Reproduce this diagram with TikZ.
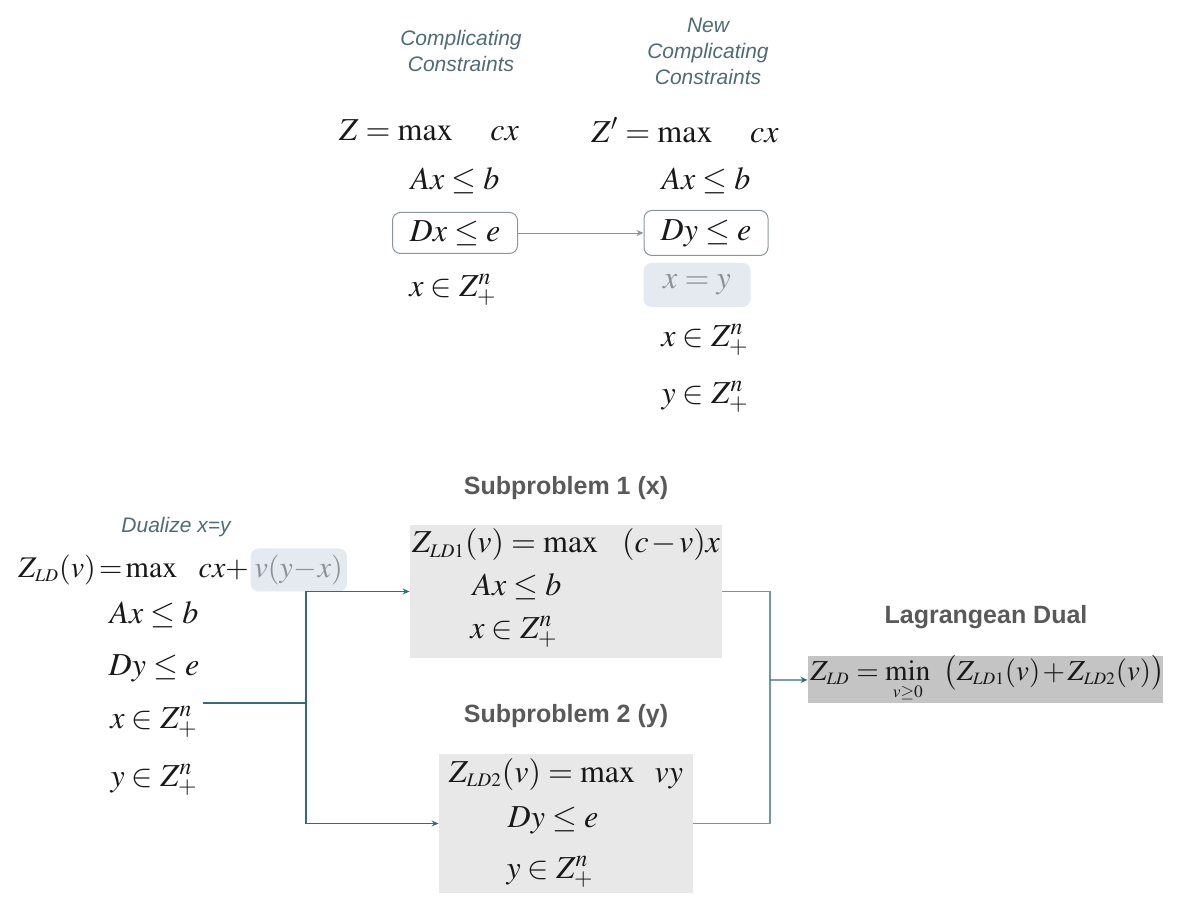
\documentclass[tikz,border=0pt]{standalone}
\usepackage{mathptmx}
\usepackage[no-math]{fontspec}
\setsansfont{Liberation Sans}
\usetikzlibrary{arrows.meta}

\definecolor{notecol}{HTML}{4F6B73}
\definecolor{headcol}{HTML}{595959}
\definecolor{linkcol}{HTML}{2F6F73}
\definecolor{joincol}{HTML}{6B9C9E}
\definecolor{boxline}{HTML}{8A969B}
\definecolor{hlcol}{HTML}{E4EAEF}
\definecolor{subfill}{HTML}{E8E8E8}
\definecolor{dualfill}{HTML}{C4C4C4}
\definecolor{dimtext}{HTML}{8C9196}

% tighter + and - spacing, closer to equation-editor output
\medmuskip=1.5mu plus 1mu
% small subscript for the dual values
\newcommand\ZLD[1]{Z_{\scriptscriptstyle LD#1}}

\begin{document}
\begin{tikzpicture}[x=0.5pt,y=-0.5pt,
    >={Stealth[length=3.5pt,width=3pt]},
    eq/.style={font=\fontsize{16}{19}\selectfont, inner sep=0pt, text=black!90},
    note/.style={font=\sffamily\itshape\fontsize{10.5}{13}\selectfont, text=notecol, align=center},
    head/.style={font=\sffamily\bfseries\fontsize{12.5}{15}\selectfont, text=headcol},
    cbox/.style={draw=boxline, rounded corners=4pt, line width=0.5pt, inner sep=0pt},
    subbox/.style={fill=subfill, inner sep=0pt},
    link/.style={draw=linkcol, line width=0.6pt}
  ]
  \useasboundingbox (0,0) rectangle (1194,897);

  % original problem
  \node[note] (cc) at (461,51) {Complicating\\Constraints};
  \node[eq] (zl) at (429,130) {$Z = \max\hspace{17pt} cx$};
  \node[eq] (axl) at (455,181) {$Ax \le b$};
  \node[eq, cbox, minimum width=62.5pt, minimum height=20.5pt] (dxl) at (455,233) {$Dx \le e$};
  \node[eq] (xzl) at (453,290) {$x \in Z^n_+$};

  % copy y of x, new complicating constraints
  \node[note] (ncc) at (708,51) {New\\Complicating\\Constraints};
  \node[eq] (zr) at (685,130) {$Z' = \max\hspace{17pt} cx$};
  \node[eq] (axr) at (706,181) {$Ax \le b$};
  \node[eq, cbox, minimum width=62pt, minimum height=22.5pt] (dyr) at (706,233) {$Dy \le e$};
  \node[eq, fill=hlcol, rounded corners=4pt, minimum width=53.5pt, minimum height=22pt,
        text=dimtext] (xyr) at (697,285) {$x = y$};
  \node[eq] (xzr) at (705,340) {$x \in Z^n_+$};
  \node[eq] (yzr) at (705,397) {$y \in Z^n_+$};

  \draw[->, draw=boxline] (dxl) -- (dyr);

  % relaxed problem
  \node[note] (dual) at (176,527) {Dualize x=y};
  \node[eq, font=\fontsize{15}{18}\selectfont, anchor=west] (zld) at (18,570)
        {$\ZLD{}(v) \mkern-2mu=\mkern-2mu \max\hspace{9pt} cx +$};
  \node[eq, font=\fontsize{15}{18}\selectfont, anchor=base west, fill=hlcol, rounded corners=4pt,
        inner xsep=2pt, minimum height=21.5pt, text=dimtext] (pen) at ([xshift=0.5pt]zld.base east) {$v(y\mkern-1mu-\mkern-1mu x)$};
  \node[eq] (axb) at (154,615) {$Ax \le b$};
  \node[eq] (dyb) at (154,668) {$Dy \le e$};
  \node[eq] (xzb) at (154,722) {$x \in Z^n_+$};
  \node[eq] (yzb) at (154,780) {$y \in Z^n_+$};

  % subproblems
  \node[head] (h1) at (566,488) {Subproblem 1 (x)};
  \node[subbox, minimum width=156pt, minimum height=66.5pt] (sub1) at (566,591.5) {};
  \node[eq] (s1a) at (566,545) {$\ZLD1(v) = \max\hspace{12pt} (c-v)x$};
  \node[eq] (s1b) at (517,587) {$Ax \le b$};
  \node[eq] (s1c) at (514,632) {$x \in Z^n_+$};

  \node[head] (h2) at (566,716) {Subproblem 2 (y)};
  \node[subbox, minimum width=127pt, minimum height=69.5pt] (sub2) at (566,823.5) {};
  \node[eq] (s2a) at (566,774) {$\ZLD2(v) = \max\hspace{8pt} vy$};
  \node[eq] (s2b) at (553,820) {$Dy \le e$};
  \node[eq] (s2c) at (550,872) {$y \in Z^n_+$};

  % dual
  \node[head] (h3) at (986,617) {Lagrangean Dual};
  \node[subbox, fill=dualfill, minimum width=177.5pt, minimum height=23.5pt] (ld) at (985.5,679.5) {};
  \node[eq, font=\fontsize{14.5}{17}\selectfont, anchor=west] (ldt) at (810,679)
        {$\ZLD{} = \min\limits_{\scriptscriptstyle v\ge 0}\hspace{5pt} \big(\ZLD1(v) + \ZLD2(v)\big)$};

  % connectors
  \coordinate (src) at (203,703);
  \coordinate (fork) at (306,703);
  \draw[link] (src) -- (fork);
  \draw[link, ->] (fork) |- (sub1);
  \draw[link, ->] (fork) |- (sub2);

  \coordinate (jtop) at (770,591.5);
  \coordinate (jbot) at (770,823.5);
  \coordinate (join) at (770,680);
  \draw[link, draw=joincol] (sub1.east) -- (jtop) -- (jbot) -- (sub2.east);
  \draw[link, ->] (join) -- (ld);
\end{tikzpicture}
\end{document}
